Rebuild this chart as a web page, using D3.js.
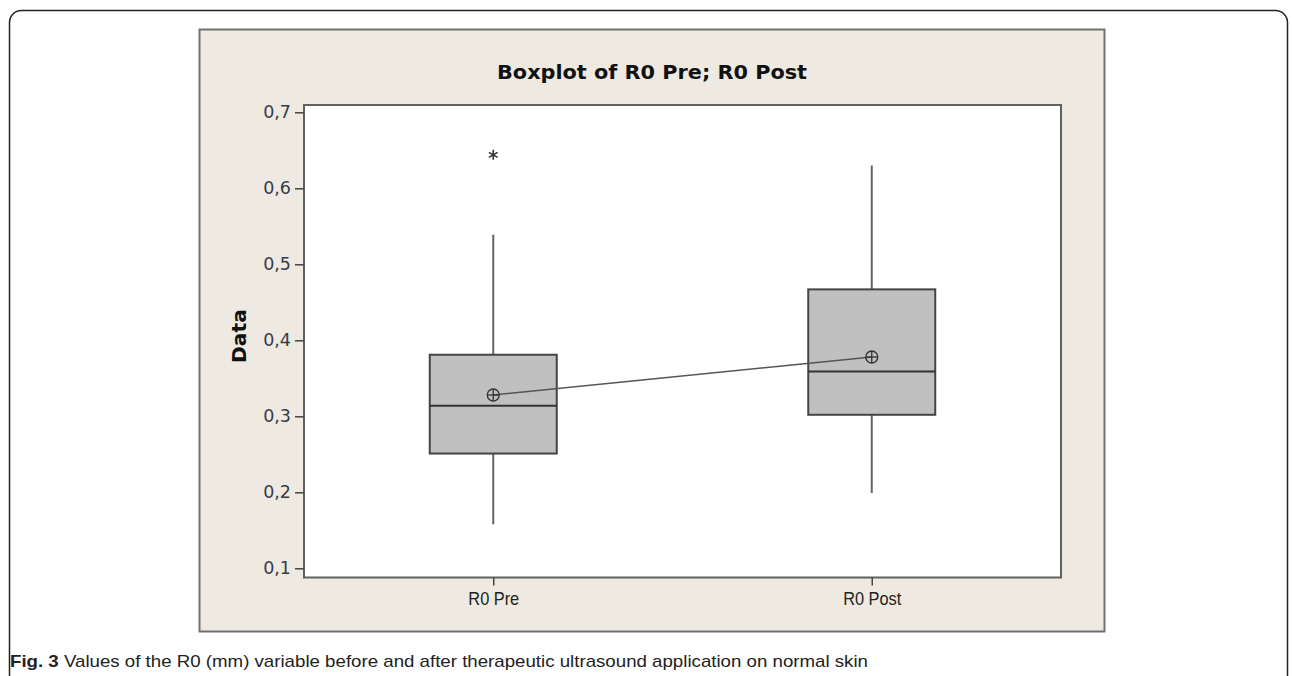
<!DOCTYPE html>
<html><head><meta charset="utf-8">
<script src="https://cdn.jsdelivr.net/npm/d3@7"></script>
<style>body{margin:0;background:#fff;} svg{display:block;}</style>
</head><body>
<script>
// ---- data ----
const categories = ["R0 Pre", "R0 Post"];
const q1 = [0.251, 0.302];
const medians = [0.314, 0.359];
const q3 = [0.381, 0.467];
const whiskerLow = [0.158, 0.199];
const whiskerHigh = [0.539, 0.630];
const means = [0.328, 0.378];
const outliers = [[0.644], []];
const yTicks = [0.1, 0.2, 0.3, 0.4, 0.5, 0.6, 0.7];
const title = "Boxplot of R0 Pre; R0 Post";
const yLabel = "Data";
const captionBold = "Fig. 3";
const captionText = " Values of the R0 (mm) variable before and after therapeutic ultrasound application on normal skin";

const W = 1292, H = 676;
const svg = d3.select("body").append("svg").attr("width", W).attr("height", H);

function squeeze(sel, factor) {
  sel.each(function () {
    const len = this.getComputedTextLength();
    d3.select(this).attr("textLength", len * factor).attr("lengthAdjust", "spacingAndGlyphs");
  });
}

// outer rounded frame
svg.append("rect").attr("x", 9.5).attr("y", 10.5).attr("width", 1278).attr("height", 720)
  .attr("rx", 12).attr("fill", "#fff").attr("stroke", "#222").attr("stroke-width", 1.5);

// beige panel
svg.append("rect").attr("x", 199.5).attr("y", 29.5).attr("width", 905).attr("height", 602)
  .attr("fill", "#EEEAE1").attr("stroke", "#707070").attr("stroke-width", 2);

// plot area
const px0 = 304, px1 = 1061, py0 = 105, py1 = 577.5;
const x = d3.scalePoint().domain(categories).range([px0, px1]).padding(0.5);
const y = d3.scaleLinear().domain([0.1, 0.7]).range([568.3, 112.3]);

svg.append("rect").attr("x", px0).attr("y", py0).attr("width", px1 - px0).attr("height", py1 - py0)
  .attr("fill", "#fff").attr("stroke", "#606060").attr("stroke-width", 2);

// title
const tt = svg.append("text").attr("x", 652).attr("y", 79).attr("text-anchor", "middle")
  .attr("font-family", "DejaVu Sans").attr("font-weight", "bold").attr("font-size", 19.5)
  .attr("fill", "#111").text(title);
tt.attr("textLength", 310).attr("lengthAdjust", "spacingAndGlyphs");

// y axis
const yAxis = svg.append("g").attr("transform", `translate(${px0},0)`)
  .call(d3.axisLeft(y).tickValues(yTicks).tickSize(9).tickPadding(4)
    .tickFormat(d => d3.format(".1f")(d).replace(".", ",")));
yAxis.select(".domain").remove();
yAxis.selectAll(".tick line").attr("stroke", "#444").attr("stroke-width", 1.5);
yAxis.selectAll(".tick text").attr("font-family", "DejaVu Sans").attr("font-size", 17.5)
  .attr("fill", "#363b4a");

svg.append("text").attr("transform", "translate(246,336) rotate(-90)").attr("text-anchor", "middle")
  .attr("font-family", "DejaVu Sans").attr("font-weight", "bold").attr("font-size", 19)
  .attr("fill", "#111").attr("textLength", 54).attr("lengthAdjust", "spacingAndGlyphs").text(yLabel);

// x axis
const xAxis = svg.append("g").attr("transform", `translate(0,${py1})`)
  .call(d3.axisBottom(x).tickSize(8).tickPadding(6));
xAxis.select(".domain").remove();
xAxis.selectAll(".tick line").attr("stroke", "#444").attr("stroke-width", 1.5);
xAxis.selectAll(".tick text").attr("font-family", "Liberation Sans").attr("font-size", 19)
  .attr("fill", "#222");
squeeze(xAxis.selectAll(".tick text"), 0.86);

// boxes
const boxW = 127;
const g = svg.append("g");
categories.forEach((c, i) => {
  const cx = x(c);
  g.append("line").attr("x1", cx).attr("x2", cx).attr("y1", y(whiskerHigh[i])).attr("y2", y(q3[i]))
    .attr("stroke", "#666").attr("stroke-width", 2);
  g.append("line").attr("x1", cx).attr("x2", cx).attr("y1", y(q1[i])).attr("y2", y(whiskerLow[i]))
    .attr("stroke", "#666").attr("stroke-width", 2);
  g.append("rect").attr("x", cx - boxW / 2).attr("y", y(q3[i])).attr("width", boxW)
    .attr("height", y(q1[i]) - y(q3[i])).attr("fill", "#C0C0C0").attr("stroke", "#444").attr("stroke-width", 2);
  g.append("line").attr("x1", cx - boxW / 2).attr("x2", cx + boxW / 2).attr("y1", y(medians[i])).attr("y2", y(medians[i]))
    .attr("stroke", "#333").attr("stroke-width", 2);
  outliers[i].forEach(v => {
    g.append("path").attr("transform", `translate(${cx},${y(v)})`)
      .attr("d", d3.symbol(d3.symbolAsterisk, 70)()).attr("stroke", "#333").attr("stroke-width", 1.6).attr("fill", "none");
  });
});

// mean connect line
g.append("path").datum(categories.map((c, i) => [x(c), y(means[i])]))
  .attr("d", d3.line()).attr("fill", "none").attr("stroke", "#555").attr("stroke-width", 1.5);
categories.forEach((c, i) => {
  const cx = x(c), cy = y(means[i]), r = 6;
  g.append("circle").attr("cx", cx).attr("cy", cy).attr("r", r).attr("fill", "none").attr("stroke", "#333").attr("stroke-width", 1.3);
  g.append("line").attr("x1", cx - r).attr("x2", cx + r).attr("y1", cy).attr("y2", cy).attr("stroke", "#333").attr("stroke-width", 1.3);
  g.append("line").attr("x1", cx).attr("x2", cx).attr("y1", cy - r).attr("y2", cy + r).attr("stroke", "#333").attr("stroke-width", 1.3);
});

// caption
const cap = svg.append("text").attr("x", 10).attr("y", 667)
  .attr("font-family", "Liberation Sans").attr("font-size", 17).attr("fill", "#222");
cap.append("tspan").attr("font-weight", "bold").text(captionBold);
cap.append("tspan").text(captionText);
cap.attr("textLength", 858).attr("lengthAdjust", "spacingAndGlyphs");
</script>
</body></html>
